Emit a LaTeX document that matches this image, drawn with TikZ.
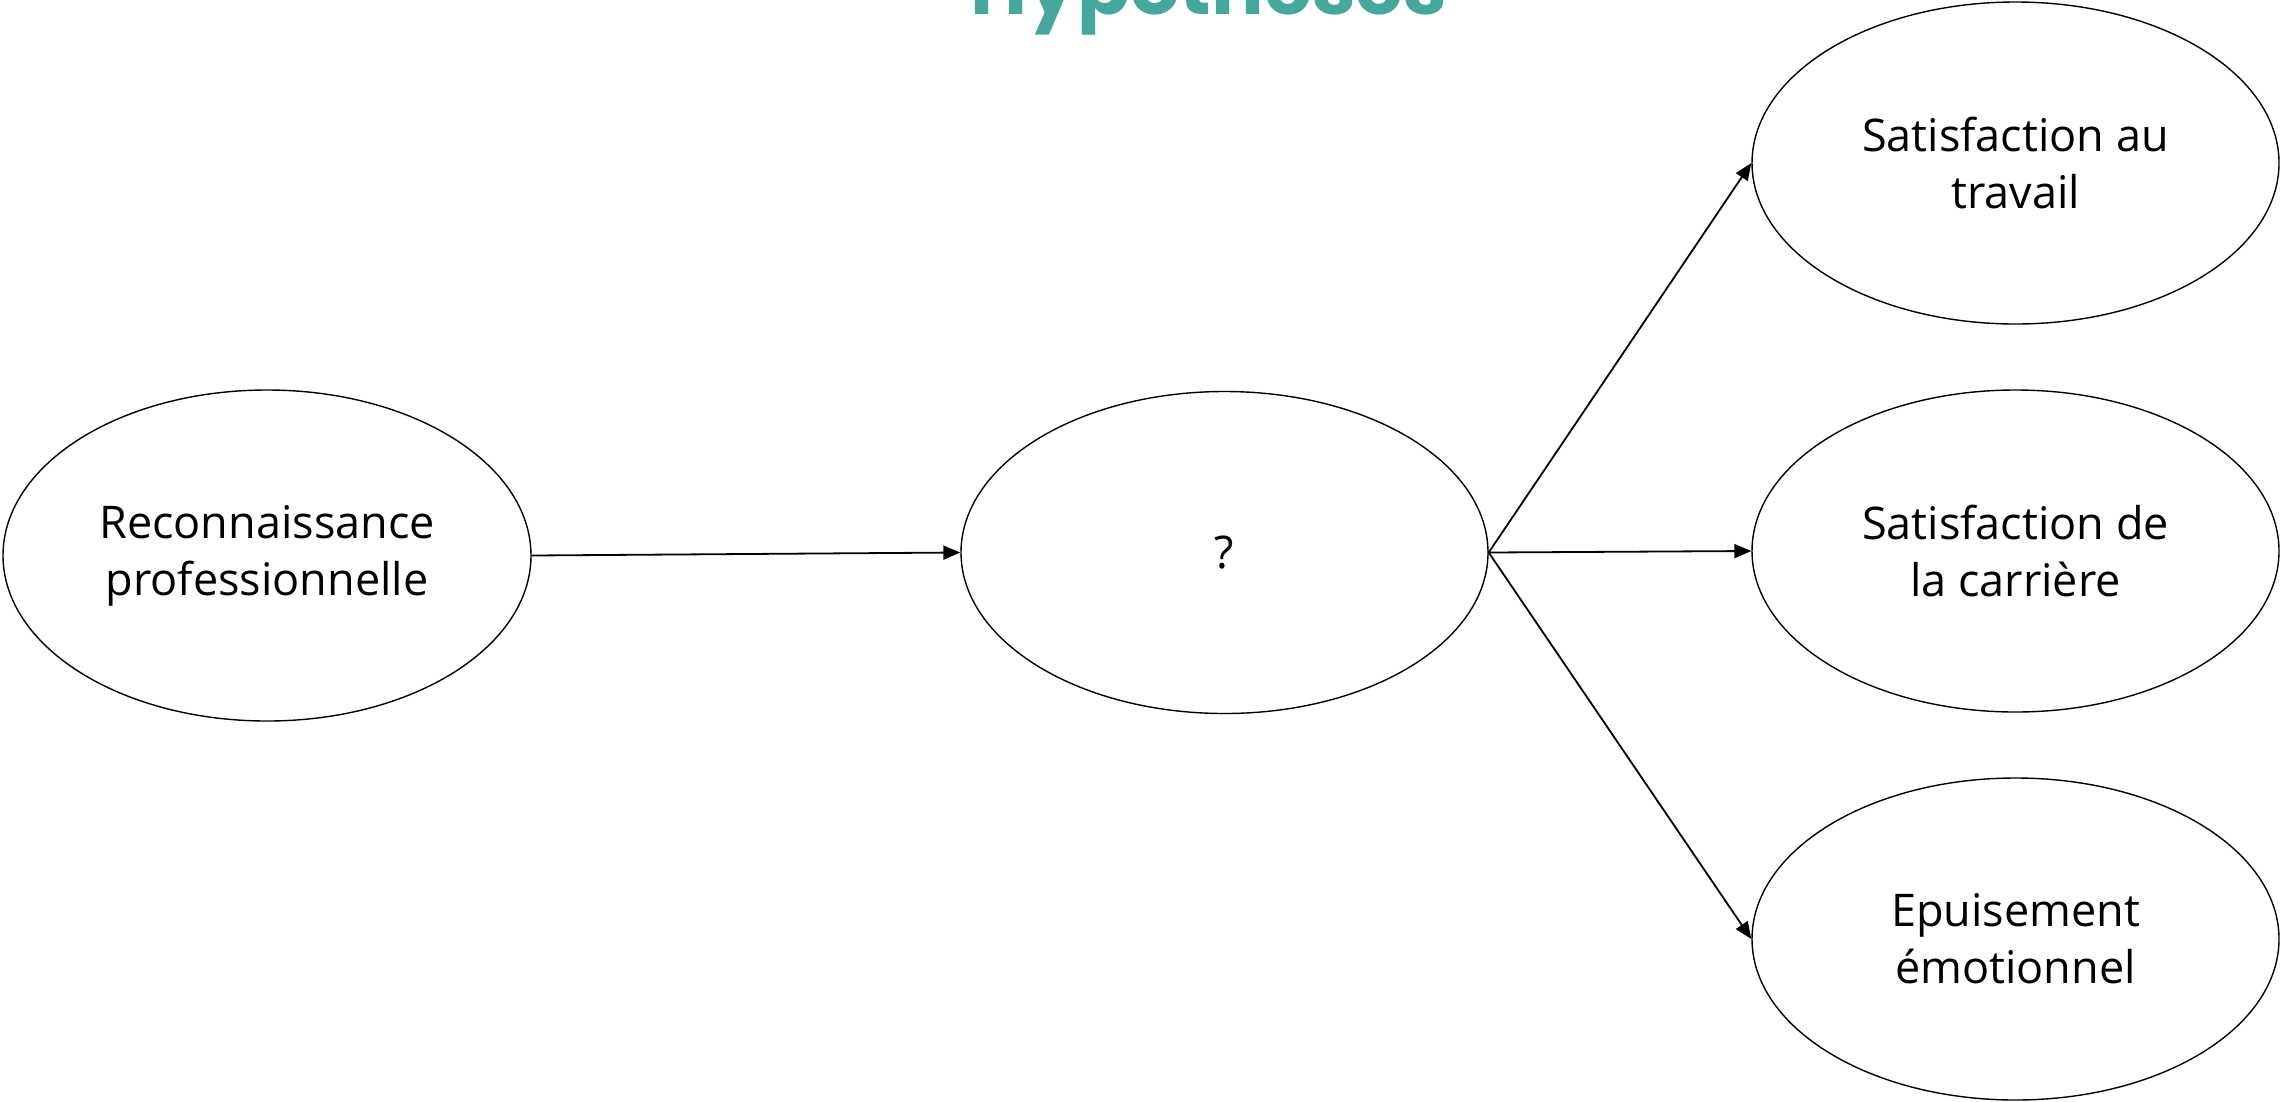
\documentclass[tikz,border=0pt]{standalone}
\usepackage{fontspec}
\setmainfont{Open Sans}
\newfontfamily\titlefont{Poppins}
\usetikzlibrary{shapes.geometric,arrows.meta}
\definecolor{teal1}{HTML}{46A79C}
\begin{document}
\begin{tikzpicture}[x=1pt,y=-1pt,
  oval/.style={ellipse,draw=black,line width=1.4pt,inner sep=0pt,
    minimum width=527pt,minimum height=322pt,align=center,
    font=\fontsize{45}{57}\selectfont},
  link/.style={line width=1.8pt,-{Triangle[length=17pt,width=14pt]}}]
\useasboundingbox (0,0) rectangle (2280,1101);
\node[anchor=base,text=teal1,font=\titlefont\bfseries\fontsize{78}{86}\selectfont] (title) at (1209,14) {Hypothèses};
\node[oval,minimum width=528pt,minimum height=331pt] (rec) at (267,555.5) {Reconnaissance\\professionnelle};
\node[oval] (q) at (1224.5,552.5) {?};
\node[oval] (sat1) at (2015.5,163) {Satisfaction au\\travail};
\node[oval] (sat2) at (2015.5,551) {Satisfaction de\\la carrière};
\node[oval] (epu) at (2015.5,939) {Epuisement\\émotionnel};
\draw[link] (rec.east) -- (q.west);
\draw[link] (q.east) -- (sat1.west);
\draw[link] (q.east) -- (sat2.west);
\draw[link] (q.east) -- (epu.west);
\end{tikzpicture}
\end{document}
